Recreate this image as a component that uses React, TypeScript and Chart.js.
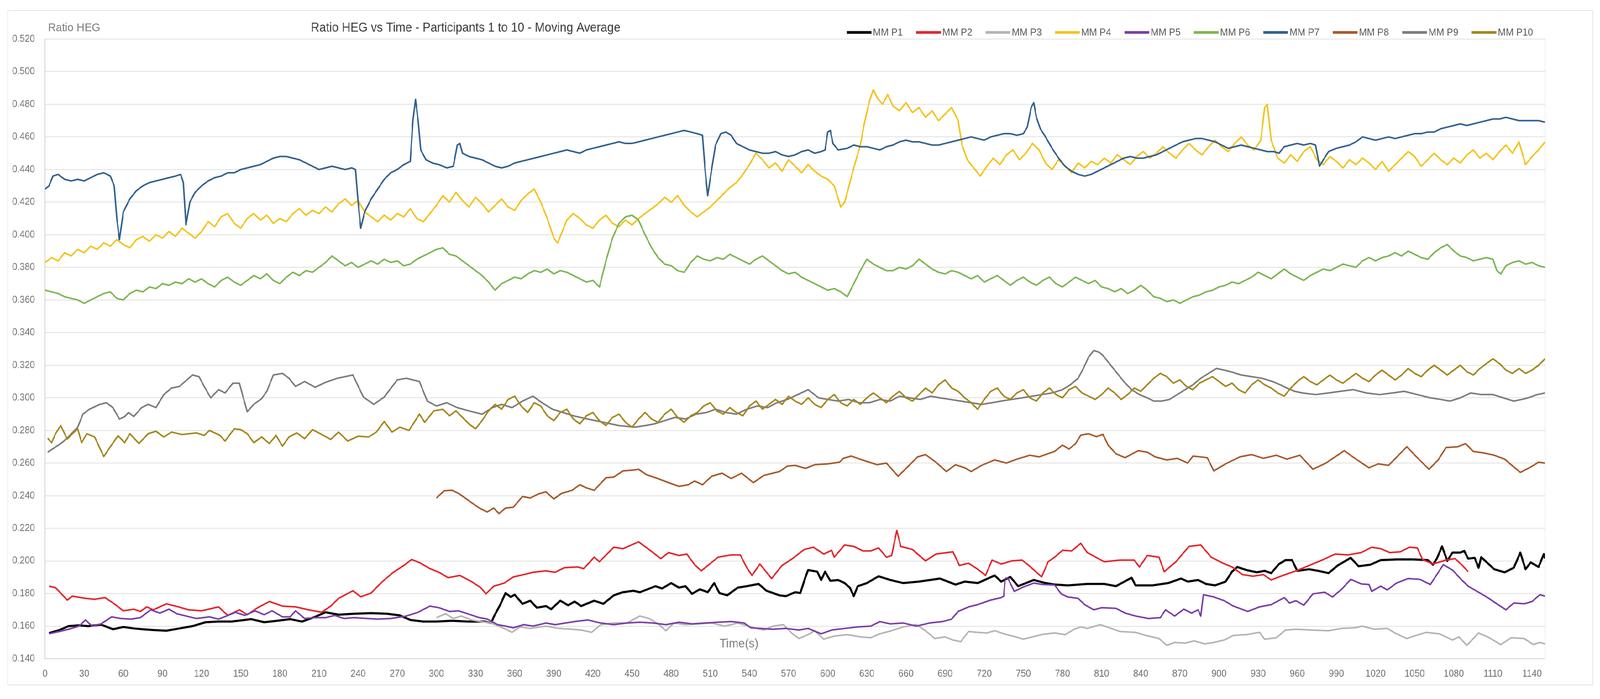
import React, { useEffect, useRef } from "react";
import { Chart, registerables } from "chart.js";

Chart.register(...registerables);

const SERIES_LABELS = ["MM P1", "MM P2", "MM P3", "MM P4", "MM P5", "MM P6", "MM P7", "MM P8", "MM P9", "MM P10"];
const SERIES_COLORS = ["#000000", "#e3262b", "#b4b4b4", "#f2c31c", "#7a3fa6", "#7cb653", "#32618e", "#a65a2b", "#7c7c7c", "#a3871c"];
const SERIES_WIDTHS = [5.5, 4, 4, 4, 4, 4, 4, 4, 4, 4];

const X_TICKS = [0, 30, 60, 90, 120, 150, 180, 210, 240, 270, 300, 330, 360, 390, 420, 450, 480, 510, 540, 570, 600, 630, 660, 690, 720, 750, 780, 810, 840, 870, 900, 930, 960, 990, 1020, 1050, 1080, 1110, 1140];
const Y_TICKS = [0.14, 0.16, 0.18, 0.2, 0.22, 0.24, 0.26, 0.28, 0.3, 0.32, 0.34, 0.36, 0.38, 0.4, 0.42, 0.44, 0.46, 0.48, 0.5, 0.52];

const P1: number[][] = [[3,0.1557],[11,0.1576],[18,0.160],[26,0.1605],[33,0.160],[43,0.1609],[52,0.1581],[60,0.1595],[68,0.1586],[75,0.1581],[83,0.1576],[93,0.1572],[103,0.1586],[113,0.160],[123,0.1624],[133,0.1628],[143,0.1628],[153,0.1638],[158,0.1643],[168,0.1624],[178,0.1633],[188,0.1643],[197,0.1628],[207,0.1657],[215,0.1685],[225,0.167],[237,0.1676],[250,0.168],[262,0.1676],[272,0.1666],[280,0.1638],[290,0.1628],[300,0.1628],[312,0.1633],[324,0.1628],[337,0.1628],[342,0.1619],[344,0.1657],[349,0.1732],[353,0.1803],[357,0.1779],[360,0.1793],[366,0.1737],[372,0.1756],[377,0.1713],[384,0.1723],[388,0.1704],[395,0.1756],[401,0.1728],[406,0.1751],[411,0.1723],[421,0.1756],[428,0.1737],[436,0.1789],[443,0.1808],[451,0.1817],[456,0.1808],[468,0.1845],[473,0.1831],[480,0.1864],[486,0.1836],[491,0.1845],[496,0.1798],[502,0.1826],[508,0.1808],[513,0.1864],[517,0.1803],[523,0.1789],[531,0.1836],[538,0.1845],[547,0.1859],[553,0.1817],[563,0.1789],[568,0.1784],[575,0.1808],[579,0.1803],[583,0.1902],[585,0.1944],[592,0.1934],[595,0.1883],[598,0.1934],[602,0.1878],[608,0.1883],[613,0.1864],[617,0.1836],[620,0.1784],[623,0.1845],[630,0.1864],[639,0.1906],[648,0.1883],[658,0.1864],[670,0.1873],[686,0.1892],[698,0.1855],[705,0.1873],[715,0.1864],[728,0.1911],[733,0.1873],[740,0.1902],[746,0.1845],[758,0.1883],[767,0.1864],[774,0.1855],[784,0.185],[799,0.1859],[812,0.1859],[821,0.1845],[833,0.1897],[836,0.185],[849,0.185],[861,0.1864],[871,0.1892],[876,0.1873],[884,0.1883],[890,0.1859],[897,0.185],[905,0.1873],[910,0.1934],[914,0.1963],[921,0.1944],[929,0.193],[935,0.1939],[940,0.1925],[946,0.1981],[951,0.2005],[956,0.2005],[960,0.1939],[969,0.1949],[976,0.1939],[984,0.1925],[991,0.1972],[1001,0.2019],[1007,0.1967],[1016,0.1977],[1024,0.2005],[1036,0.2009],[1049,0.2009],[1060,0.2005],[1064,0.1977],[1067,0.2014],[1071,0.2089],[1075,0.2],[1079,0.2051],[1085,0.2051],[1088,0.2061],[1091,0.2014],[1096,0.2019],[1099,0.1958],[1101,0.2023],[1111,0.1949],[1119,0.193],[1126,0.1958],[1131,0.2051],[1135,0.1949],[1139,0.1991],[1145,0.1963],[1149,0.2042],[1150,0.2014]];

const P2: number[][] = [[3,0.1845],[8,0.1836],[17,0.176],[21,0.1784],[31,0.177],[38,0.1765],[46,0.1775],[53,0.1737],[60,0.1694],[68,0.1704],[73,0.169],[78,0.1718],[83,0.170],[93,0.1737],[100,0.1723],[110,0.170],[120,0.1694],[133,0.1718],[140,0.1666],[149,0.170],[155,0.167],[163,0.1713],[172,0.1751],[182,0.1723],[192,0.1718],[202,0.170],[212,0.1685],[219,0.1723],[225,0.177],[236,0.1817],[242,0.178],[250,0.1803],[258,0.1869],[267,0.193],[275,0.1972],[281,0.2009],[287,0.199],[295,0.1953],[302,0.193],[309,0.1897],[318,0.1911],[327,0.1873],[334,0.1836],[338,0.1798],[344,0.1845],[352,0.1864],[359,0.1902],[367,0.1916],[374,0.193],[384,0.1939],[391,0.193],[398,0.1958],[408,0.1963],[413,0.1953],[421,0.2023],[425,0.1995],[436,0.2084],[443,0.2075],[455,0.2117],[463,0.207],[472,0.2014],[478,0.2051],[486,0.2033],[492,0.2042],[498,0.1977],[503,0.1939],[516,0.2023],[526,0.2037],[533,0.2037],[538,0.1958],[542,0.1911],[548,0.1981],[557,0.1892],[565,0.1972],[573,0.2014],[582,0.207],[589,0.2084],[597,0.2042],[603,0.2065],[605,0.2023],[613,0.2098],[620,0.2089],[627,0.2061],[633,0.2061],[639,0.208],[645,0.2023],[649,0.2033],[653,0.2187],[656,0.2089],[665,0.207],[675,0.200],[683,0.2042],[696,0.2056],[701,0.1972],[708,0.1986],[715,0.1949],[721,0.1911],[726,0.2005],[733,0.1981],[741,0.200],[749,0.2005],[755,0.1967],[764,0.1902],[769,0.1995],[774,0.2023],[780,0.2065],[787,0.2061],[794,0.2108],[799,0.2051],[812,0.1995],[824,0.2005],[835,0.2005],[839,0.1963],[845,0.2033],[854,0.2023],[858,0.1934],[867,0.1995],[877,0.2089],[886,0.2098],[894,0.2023],[903,0.1986],[910,0.1963],[918,0.1916],[926,0.1906],[934,0.1916],[940,0.1883],[949,0.1911],[959,0.1939],[969,0.1972],[979,0.2005],[989,0.2042],[999,0.2037],[1009,0.2051],[1017,0.2084],[1024,0.2075],[1031,0.2051],[1039,0.2056],[1046,0.2084],[1052,0.208],[1056,0.2009],[1064,0.1981],[1074,0.2005],[1081,0.2014],[1086,0.1977],[1091,0.1934]];

const P3: number[][] = [[300,0.1652],[307,0.1676],[313,0.1647],[319,0.1662],[327,0.1638],[334,0.1628],[342,0.1619],[352,0.1586],[358,0.1562],[364,0.1595],[372,0.1586],[384,0.160],[394,0.1586],[404,0.1581],[411,0.1576],[419,0.1562],[426,0.1609],[436,0.1619],[446,0.1619],[456,0.1662],[463,0.1647],[470,0.1614],[476,0.1572],[482,0.1619],[491,0.1609],[501,0.1614],[511,0.1619],[521,0.160],[531,0.1619],[541,0.1595],[551,0.1576],[558,0.160],[566,0.1609],[573,0.1553],[578,0.1524],[585,0.1548],[590,0.1572],[597,0.152],[605,0.1539],[615,0.1548],[625,0.1534],[633,0.1529],[640,0.1553],[648,0.157],[658,0.1595],[668,0.161],[675,0.1572],[682,0.1524],[690,0.1534],[696,0.1515],[702,0.1505],[708,0.1567],[715,0.1562],[722,0.1558],[728,0.1572],[735,0.1553],[742,0.1539],[750,0.152],[757,0.1534],[765,0.155],[774,0.1558],[782,0.1548],[789,0.1581],[794,0.1595],[799,0.1586],[809,0.1609],[816,0.159],[824,0.1567],[836,0.1562],[844,0.1543],[854,0.1524],[860,0.1482],[866,0.150],[874,0.1496],[881,0.151],[889,0.1491],[896,0.150],[904,0.1515],[911,0.1543],[921,0.1548],[931,0.1562],[935,0.152],[944,0.1529],[951,0.1576],[959,0.1581],[971,0.1576],[984,0.1572],[994,0.1586],[1004,0.159],[1010,0.160],[1019,0.1581],[1029,0.1586],[1036,0.1553],[1044,0.1524],[1051,0.1543],[1059,0.1562],[1069,0.1553],[1079,0.1515],[1084,0.1534],[1090,0.1482],[1099,0.1558],[1106,0.1534],[1116,0.1487],[1124,0.1529],[1134,0.1524],[1141,0.1487],[1146,0.150],[1150,0.1491]];

const P4: number[][] = [[0,0.383],[5,0.386],[10,0.384],[15,0.389],[20,0.387],[25,0.391],[30,0.389],[35,0.393],[40,0.391],[45,0.395],[50,0.393],[55,0.397],[60,0.394],[65,0.392],[70,0.397],[75,0.399],[80,0.396],[85,0.400],[90,0.398],[95,0.402],[100,0.399],[105,0.404],[110,0.401],[115,0.398],[120,0.402],[125,0.408],[130,0.405],[135,0.411],[140,0.413],[145,0.407],[150,0.404],[155,0.410],[160,0.413],[165,0.409],[170,0.412],[175,0.407],[180,0.410],[185,0.408],[190,0.413],[195,0.416],[200,0.412],[205,0.415],[210,0.413],[215,0.417],[220,0.414],[225,0.419],[230,0.422],[235,0.418],[240,0.421],[245,0.414],[250,0.411],[255,0.408],[260,0.412],[265,0.409],[270,0.413],[275,0.411],[280,0.416],[285,0.410],[290,0.408],[295,0.413],[300,0.418],[305,0.424],[310,0.420],[315,0.426],[320,0.421],[325,0.417],[330,0.423],[335,0.419],[340,0.414],[345,0.418],[350,0.422],[355,0.417],[360,0.415],[365,0.421],[370,0.425],[375,0.428],[380,0.420],[385,0.410],[390,0.398],[393,0.395],[397,0.403],[400,0.409],[405,0.413],[410,0.410],[415,0.406],[420,0.404],[425,0.409],[430,0.412],[435,0.407],[440,0.405],[445,0.409],[450,0.406],[455,0.410],[460,0.413],[465,0.416],[470,0.419],[475,0.423],[480,0.420],[485,0.424],[490,0.418],[495,0.414],[500,0.411],[505,0.414],[510,0.417],[515,0.421],[520,0.425],[525,0.429],[530,0.432],[535,0.437],[540,0.443],[545,0.450],[550,0.446],[555,0.441],[560,0.444],[565,0.439],[570,0.446],[575,0.442],[580,0.438],[585,0.443],[590,0.439],[595,0.436],[600,0.434],[605,0.430],[610,0.417],[613,0.420],[617,0.432],[620,0.441],[625,0.455],[628,0.468],[632,0.482],[635,0.489],[638,0.484],[642,0.480],[646,0.486],[650,0.479],[655,0.476],[660,0.481],[665,0.475],[670,0.478],[675,0.472],[680,0.476],[685,0.470],[690,0.474],[695,0.478],[700,0.470],[703,0.455],[707,0.446],[712,0.441],[717,0.436],[722,0.442],[727,0.447],[732,0.443],[737,0.449],[742,0.452],[747,0.446],[752,0.450],[757,0.456],[762,0.452],[767,0.444],[772,0.440],[777,0.446],[782,0.442],[787,0.438],[792,0.444],[797,0.441],[802,0.445],[807,0.443],[812,0.447],[817,0.444],[822,0.449],[827,0.446],[832,0.443],[837,0.448],[842,0.451],[847,0.447],[852,0.450],[857,0.454],[862,0.450],[867,0.447],[872,0.452],[877,0.456],[882,0.452],[887,0.449],[892,0.454],[897,0.458],[902,0.454],[907,0.451],[912,0.456],[917,0.460],[922,0.455],[927,0.452],[932,0.458],[935,0.478],[937,0.480],[940,0.458],[945,0.447],[950,0.444],[955,0.449],[960,0.445],[965,0.451],[970,0.454],[975,0.446],[980,0.443],[985,0.448],[990,0.445],[995,0.441],[1000,0.446],[1005,0.443],[1010,0.447],[1015,0.444],[1020,0.440],[1025,0.445],[1030,0.439],[1035,0.443],[1040,0.447],[1045,0.451],[1050,0.448],[1055,0.442],[1060,0.446],[1065,0.450],[1070,0.446],[1075,0.443],[1080,0.447],[1085,0.444],[1090,0.449],[1095,0.452],[1100,0.447],[1105,0.450],[1110,0.446],[1115,0.451],[1120,0.455],[1125,0.450],[1130,0.457],[1135,0.443],[1140,0.448],[1145,0.452],[1150,0.457]];

const P5: number[][] = [[3,0.1553],[11,0.1567],[18,0.1581],[26,0.160],[31,0.1638],[36,0.160],[43,0.1614],[51,0.1657],[58,0.1647],[66,0.1643],[73,0.1652],[81,0.170],[88,0.168],[95,0.1704],[101,0.1676],[108,0.1662],[116,0.1647],[126,0.1657],[133,0.1643],[139,0.1662],[146,0.1685],[153,0.1666],[161,0.1694],[168,0.167],[174,0.1694],[182,0.1657],[188,0.1657],[192,0.1694],[199,0.1647],[207,0.1652],[215,0.1652],[222,0.1666],[229,0.1647],[237,0.1652],[247,0.1647],[255,0.1643],[265,0.1647],[277,0.1662],[286,0.1685],[295,0.1723],[302,0.1713],[310,0.169],[317,0.1694],[324,0.1676],[333,0.1652],[339,0.1643],[347,0.1609],[353,0.160],[359,0.159],[367,0.1609],[374,0.160],[384,0.1619],[391,0.1609],[399,0.1619],[406,0.1628],[416,0.1638],[426,0.1619],[436,0.1609],[446,0.1619],[456,0.1624],[466,0.1619],[476,0.1609],[486,0.1624],[496,0.1614],[506,0.1619],[516,0.1624],[526,0.1628],[536,0.1619],[541,0.159],[548,0.1586],[558,0.1581],[568,0.1586],[578,0.1576],[585,0.1586],[595,0.1553],[603,0.1576],[613,0.1586],[623,0.1595],[633,0.160],[640,0.1628],[648,0.1614],[658,0.1619],[668,0.160],[678,0.1619],[688,0.1628],[695,0.1643],[700,0.169],[708,0.1718],[715,0.1732],[725,0.176],[733,0.1775],[735,0.1784],[736,0.1892],[738,0.1897],[743,0.1813],[750,0.184],[758,0.1864],[765,0.1855],[774,0.1852],[779,0.1798],[784,0.1779],[792,0.177],[797,0.1732],[804,0.170],[810,0.1713],[821,0.1709],[828,0.168],[836,0.1662],[846,0.1647],[855,0.1652],[859,0.170],[866,0.1662],[873,0.1704],[879,0.168],[884,0.170],[886,0.1662],[888,0.1793],[896,0.1779],[904,0.1756],[911,0.1723],[922,0.169],[931,0.1718],[940,0.1732],[950,0.1775],[954,0.1742],[959,0.1756],[965,0.1728],[972,0.1798],[981,0.1808],[987,0.1779],[994,0.1826],[1001,0.1887],[1009,0.1859],[1015,0.1855],[1017,0.1813],[1024,0.1845],[1029,0.1822],[1036,0.1864],[1045,0.1892],[1054,0.1887],[1062,0.1855],[1067,0.1916],[1072,0.1977],[1079,0.1944],[1085,0.1892],[1091,0.1845],[1099,0.1808],[1106,0.1775],[1112,0.1742],[1120,0.170],[1126,0.1742],[1134,0.1737],[1140,0.1751],[1146,0.1793],[1150,0.1784]];

const P6: number[][] = [[0,0.366],[5,0.365],[10,0.364],[15,0.362],[20,0.361],[25,0.360],[30,0.358],[35,0.360],[40,0.362],[45,0.364],[50,0.365],[55,0.361],[60,0.360],[65,0.364],[70,0.366],[75,0.365],[80,0.368],[85,0.367],[90,0.370],[95,0.369],[100,0.371],[105,0.370],[110,0.373],[115,0.371],[120,0.373],[125,0.370],[130,0.368],[135,0.372],[140,0.374],[145,0.371],[150,0.369],[155,0.372],[160,0.375],[165,0.373],[170,0.376],[175,0.372],[180,0.370],[185,0.374],[190,0.377],[195,0.375],[200,0.378],[205,0.377],[210,0.380],[215,0.383],[220,0.387],[225,0.384],[230,0.381],[235,0.383],[240,0.380],[245,0.382],[250,0.384],[255,0.382],[260,0.385],[265,0.383],[270,0.384],[275,0.381],[280,0.382],[285,0.385],[290,0.387],[295,0.389],[300,0.391],[305,0.392],[310,0.388],[315,0.387],[320,0.384],[325,0.381],[330,0.378],[335,0.375],[340,0.371],[345,0.366],[350,0.370],[355,0.372],[360,0.374],[365,0.373],[370,0.376],[375,0.378],[380,0.377],[385,0.379],[390,0.376],[395,0.378],[400,0.377],[405,0.375],[410,0.373],[415,0.371],[420,0.372],[425,0.368],[430,0.384],[435,0.398],[440,0.407],[445,0.411],[450,0.412],[455,0.409],[460,0.400],[465,0.392],[470,0.386],[475,0.382],[480,0.381],[485,0.378],[490,0.377],[495,0.383],[500,0.387],[505,0.385],[510,0.384],[515,0.386],[520,0.385],[525,0.388],[530,0.386],[535,0.384],[540,0.382],[545,0.385],[550,0.387],[555,0.384],[560,0.381],[565,0.378],[570,0.376],[575,0.377],[580,0.374],[585,0.372],[590,0.370],[595,0.368],[600,0.366],[605,0.367],[610,0.365],[615,0.362],[620,0.370],[625,0.378],[630,0.385],[635,0.382],[640,0.380],[645,0.378],[650,0.378],[655,0.380],[660,0.379],[665,0.381],[670,0.385],[675,0.382],[680,0.379],[685,0.377],[690,0.376],[695,0.378],[700,0.377],[705,0.375],[710,0.373],[715,0.375],[720,0.371],[725,0.373],[730,0.375],[735,0.372],[740,0.369],[745,0.372],[750,0.374],[755,0.371],[760,0.369],[765,0.372],[770,0.374],[775,0.370],[780,0.368],[785,0.371],[790,0.374],[795,0.372],[800,0.370],[805,0.372],[810,0.368],[815,0.367],[820,0.365],[825,0.367],[830,0.364],[835,0.366],[840,0.369],[845,0.366],[850,0.362],[855,0.361],[860,0.359],[865,0.360],[870,0.358],[875,0.360],[880,0.362],[885,0.363],[890,0.365],[895,0.366],[900,0.368],[905,0.369],[910,0.371],[915,0.370],[920,0.372],[925,0.374],[930,0.377],[935,0.375],[940,0.373],[945,0.376],[950,0.379],[955,0.376],[960,0.374],[965,0.372],[970,0.375],[975,0.377],[980,0.379],[985,0.378],[990,0.380],[995,0.382],[1000,0.381],[1005,0.380],[1010,0.384],[1015,0.386],[1020,0.384],[1025,0.386],[1030,0.387],[1035,0.389],[1040,0.387],[1045,0.390],[1050,0.388],[1055,0.386],[1060,0.385],[1065,0.389],[1070,0.392],[1075,0.394],[1080,0.390],[1085,0.387],[1090,0.386],[1095,0.384],[1100,0.385],[1105,0.386],[1110,0.385],[1113,0.378],[1116,0.376],[1120,0.381],[1125,0.383],[1130,0.384],[1135,0.382],[1140,0.383],[1145,0.381],[1150,0.380]];

const P7: number[][] = [[0,0.428],[3,0.430],[6,0.436],[10,0.437],[15,0.434],[20,0.433],[25,0.434],[30,0.433],[35,0.435],[40,0.437],[45,0.438],[50,0.436],[53,0.430],[55,0.410],[57,0.397],[60,0.414],[65,0.422],[70,0.427],[75,0.430],[80,0.432],[85,0.433],[90,0.434],[95,0.435],[100,0.436],[104,0.437],[106,0.432],[108,0.406],[111,0.420],[115,0.426],[120,0.430],[125,0.433],[130,0.435],[135,0.436],[140,0.438],[145,0.438],[150,0.440],[155,0.441],[160,0.442],[165,0.443],[170,0.445],[175,0.447],[180,0.448],[185,0.448],[190,0.447],[195,0.446],[200,0.444],[205,0.442],[210,0.440],[215,0.441],[220,0.442],[225,0.441],[230,0.440],[235,0.441],[238,0.440],[240,0.420],[242,0.404],[245,0.414],[250,0.422],[255,0.428],[260,0.434],[265,0.438],[270,0.440],[275,0.443],[280,0.445],[282,0.470],[284,0.483],[286,0.470],[288,0.452],[292,0.446],[297,0.444],[302,0.443],[308,0.441],[313,0.442],[316,0.455],[318,0.456],[320,0.450],[325,0.448],[330,0.447],[335,0.446],[340,0.444],[345,0.442],[350,0.441],[355,0.442],[360,0.444],[365,0.445],[370,0.446],[375,0.447],[380,0.448],[385,0.449],[390,0.450],[395,0.451],[400,0.452],[405,0.451],[410,0.450],[415,0.452],[420,0.453],[425,0.454],[430,0.455],[435,0.456],[440,0.457],[445,0.456],[450,0.456],[455,0.457],[460,0.458],[465,0.459],[470,0.460],[475,0.461],[480,0.462],[485,0.463],[490,0.464],[495,0.463],[500,0.462],[504,0.461],[506,0.440],[508,0.424],[511,0.440],[514,0.455],[518,0.462],[522,0.463],[526,0.461],[530,0.456],[535,0.454],[540,0.452],[545,0.451],[550,0.450],[555,0.450],[560,0.451],[565,0.449],[570,0.448],[575,0.449],[580,0.451],[585,0.452],[590,0.450],[595,0.451],[598,0.452],[600,0.463],[602,0.464],[604,0.456],[608,0.452],[615,0.453],[620,0.455],[625,0.454],[630,0.454],[635,0.453],[640,0.452],[645,0.454],[650,0.455],[655,0.457],[660,0.458],[665,0.457],[670,0.457],[675,0.456],[680,0.455],[685,0.455],[690,0.456],[695,0.457],[700,0.458],[705,0.459],[710,0.460],[715,0.459],[720,0.458],[725,0.460],[730,0.461],[735,0.462],[740,0.462],[745,0.461],[750,0.462],[753,0.466],[756,0.478],[758,0.481],[760,0.472],[763,0.465],[767,0.460],[772,0.453],[777,0.447],[782,0.442],[787,0.439],[792,0.437],[797,0.436],[802,0.437],[807,0.439],[812,0.441],[817,0.443],[822,0.445],[827,0.447],[832,0.448],[837,0.447],[842,0.447],[847,0.448],[852,0.449],[857,0.451],[862,0.453],[867,0.455],[872,0.457],[877,0.458],[882,0.459],[887,0.459],[892,0.458],[897,0.457],[902,0.455],[907,0.453],[912,0.454],[917,0.455],[922,0.454],[927,0.453],[932,0.452],[937,0.451],[942,0.451],[946,0.450],[950,0.454],[955,0.455],[960,0.456],[965,0.455],[970,0.456],[974,0.455],[977,0.442],[980,0.446],[984,0.451],[990,0.453],[995,0.454],[1000,0.455],[1005,0.457],[1010,0.460],[1015,0.459],[1020,0.458],[1025,0.459],[1030,0.460],[1035,0.459],[1040,0.460],[1045,0.461],[1050,0.462],[1055,0.462],[1060,0.463],[1065,0.463],[1070,0.465],[1075,0.466],[1080,0.467],[1085,0.468],[1090,0.467],[1095,0.468],[1100,0.469],[1105,0.470],[1110,0.471],[1115,0.471],[1120,0.472],[1125,0.471],[1130,0.470],[1135,0.470],[1140,0.470],[1145,0.470],[1150,0.469]];

const P8: number[][] = [[300,0.2386],[306,0.243],[312,0.2433],[317,0.2414],[322,0.2386],[327,0.2357],[333,0.2324],[339,0.230],[344,0.2324],[348,0.229],[353,0.2324],[359,0.2329],[366,0.2395],[372,0.2386],[378,0.241],[384,0.2424],[390,0.238],[396,0.2414],[404,0.2433],[410,0.2467],[415,0.2448],[421,0.2433],[430,0.251],[436,0.2514],[443,0.2552],[451,0.2557],[455,0.2562],[461,0.2529],[468,0.251],[476,0.2486],[486,0.2457],[493,0.2467],[498,0.249],[504,0.2467],[511,0.2519],[519,0.2538],[526,0.2505],[534,0.2538],[543,0.248],[551,0.2524],[558,0.2538],[563,0.2548],[569,0.2581],[575,0.2586],[583,0.2567],[590,0.259],[600,0.2595],[609,0.2605],[612,0.2629],[618,0.2643],[623,0.2629],[630,0.261],[638,0.259],[645,0.260],[654,0.2519],[660,0.2567],[669,0.2638],[675,0.2652],[683,0.2605],[691,0.2548],[698,0.259],[705,0.2571],[710,0.2548],[718,0.2586],[728,0.2619],[737,0.260],[745,0.2624],[755,0.2648],[762,0.2638],[774,0.2672],[780,0.271],[785,0.2686],[790,0.2719],[794,0.2771],[800,0.278],[806,0.2762],[811,0.2776],[815,0.271],[821,0.2657],[828,0.2633],[838,0.2676],[845,0.2667],[851,0.2638],[860,0.2619],[868,0.2629],[876,0.260],[880,0.2643],[891,0.2633],[896,0.2552],[905,0.2595],[916,0.2638],[925,0.2652],[934,0.2629],[944,0.2648],[952,0.2624],[962,0.2648],[972,0.2562],[982,0.260],[996,0.2676],[1005,0.2624],[1015,0.2571],[1022,0.2595],[1030,0.2586],[1044,0.270],[1052,0.2633],[1061,0.2562],[1068,0.2619],[1074,0.2695],[1083,0.270],[1089,0.2719],[1095,0.2671],[1103,0.2662],[1111,0.2648],[1119,0.2624],[1126,0.2576],[1131,0.2543],[1138,0.2571],[1145,0.2605],[1150,0.260]];

const P9: number[][] = [[2,0.2667],[13,0.2725],[19,0.277],[25,0.282],[29,0.290],[34,0.293],[42,0.296],[47,0.297],[52,0.294],[57,0.287],[61,0.2885],[64,0.291],[68,0.2885],[74,0.294],[79,0.296],[85,0.294],[91,0.302],[97,0.306],[103,0.307],[113,0.314],[118,0.313],[122,0.307],[127,0.300],[133,0.305],[138,0.303],[144,0.309],[149,0.309],[152,0.300],[155,0.2915],[160,0.296],[166,0.2995],[170,0.304],[175,0.314],[182,0.315],[187,0.312],[192,0.307],[199,0.310],[207,0.3065],[215,0.3095],[224,0.312],[236,0.314],[244,0.3005],[252,0.296],[260,0.3005],[270,0.311],[277,0.312],[287,0.310],[293,0.298],[300,0.295],[308,0.297],[316,0.294],[325,0.292],[335,0.290],[343,0.294],[350,0.296],[358,0.294],[366,0.298],[374,0.301],[381,0.297],[389,0.293],[397,0.291],[405,0.289],[416,0.287],[428,0.285],[440,0.283],[452,0.282],[460,0.283],[467,0.284],[475,0.286],[483,0.288],[491,0.287],[499,0.290],[507,0.291],[514,0.293],[522,0.291],[530,0.290],[538,0.293],[546,0.295],[554,0.294],[561,0.297],[569,0.299],[577,0.302],[585,0.305],[593,0.300],[600,0.299],[608,0.298],[616,0.299],[624,0.297],[632,0.297],[640,0.299],[648,0.298],[655,0.301],[663,0.300],[671,0.299],[679,0.301],[686,0.300],[694,0.299],[702,0.298],[710,0.297],[718,0.296],[726,0.297],[733,0.298],[741,0.299],[749,0.300],[757,0.301],[764,0.302],[772,0.303],[780,0.305],[786,0.308],[792,0.312],[796,0.318],[800,0.325],[804,0.329],[808,0.328],[811,0.326],[815,0.322],[819,0.318],[823,0.314],[827,0.310],[833,0.305],[839,0.302],[845,0.300],[850,0.298],[856,0.298],[862,0.299],[868,0.302],[874,0.305],[880,0.308],[886,0.312],[892,0.315],[898,0.318],[904,0.317],[909,0.316],[917,0.314],[925,0.313],[933,0.312],[941,0.310],[947,0.308],[952,0.306],[958,0.304],[964,0.303],[974,0.302],[984,0.303],[993,0.304],[1003,0.305],[1013,0.303],[1023,0.302],[1033,0.303],[1042,0.304],[1052,0.302],[1062,0.300],[1070,0.299],[1077,0.298],[1085,0.300],[1093,0.303],[1101,0.302],[1110,0.302],[1118,0.300],[1126,0.298],[1132,0.299],[1137,0.300],[1144,0.302],[1150,0.303]];

const P10: number[][] = [[2,0.2752],[5,0.2725],[8,0.278],[12,0.283],[17,0.2747],[21,0.278],[25,0.281],[28,0.2725],[32,0.278],[38,0.276],[45,0.264],[50,0.270],[56,0.2768],[61,0.2725],[65,0.278],[72,0.272],[79,0.278],[85,0.2795],[91,0.276],[97,0.279],[105,0.2775],[116,0.2785],[122,0.277],[126,0.280],[134,0.277],[138,0.2735],[145,0.281],[150,0.2805],[155,0.278],[160,0.2725],[166,0.276],[172,0.272],[177,0.277],[182,0.2704],[187,0.276],[193,0.2785],[199,0.275],[205,0.2805],[211,0.278],[219,0.2745],[225,0.279],[232,0.2735],[240,0.2765],[248,0.276],[254,0.279],[260,0.2855],[266,0.279],[272,0.282],[279,0.280],[287,0.290],[291,0.285],[298,0.292],[305,0.293],[310,0.289],[315,0.292],[320,0.288],[325,0.284],[330,0.281],[335,0.286],[340,0.292],[345,0.296],[350,0.293],[355,0.299],[360,0.301],[365,0.295],[370,0.291],[375,0.297],[380,0.295],[385,0.289],[390,0.286],[395,0.291],[400,0.293],[405,0.287],[410,0.284],[415,0.289],[420,0.291],[425,0.286],[430,0.283],[435,0.288],[440,0.290],[445,0.285],[450,0.282],[455,0.287],[460,0.291],[465,0.287],[470,0.285],[475,0.290],[480,0.293],[485,0.288],[490,0.285],[495,0.289],[500,0.291],[505,0.295],[510,0.297],[515,0.292],[520,0.290],[525,0.294],[530,0.291],[535,0.289],[540,0.295],[545,0.298],[550,0.293],[555,0.296],[560,0.299],[565,0.296],[570,0.301],[575,0.298],[580,0.296],[585,0.300],[590,0.296],[595,0.294],[600,0.299],[605,0.302],[610,0.297],[615,0.295],[620,0.299],[625,0.296],[630,0.300],[635,0.303],[640,0.300],[645,0.297],[650,0.301],[655,0.304],[660,0.300],[665,0.298],[670,0.302],[675,0.306],[680,0.303],[685,0.308],[690,0.311],[695,0.306],[700,0.304],[705,0.300],[710,0.297],[715,0.293],[720,0.299],[725,0.304],[730,0.306],[735,0.301],[740,0.299],[745,0.303],[750,0.305],[755,0.300],[760,0.298],[765,0.303],[770,0.306],[775,0.302],[780,0.300],[785,0.305],[790,0.307],[795,0.303],[800,0.301],[805,0.299],[810,0.302],[815,0.306],[820,0.303],[825,0.299],[830,0.302],[835,0.306],[840,0.304],[845,0.308],[850,0.312],[855,0.315],[860,0.313],[865,0.309],[870,0.311],[875,0.307],[880,0.305],[885,0.309],[890,0.311],[895,0.313],[900,0.310],[905,0.307],[910,0.309],[915,0.305],[920,0.303],[925,0.308],[930,0.311],[935,0.308],[940,0.306],[945,0.303],[950,0.301],[955,0.306],[960,0.310],[965,0.313],[970,0.310],[975,0.308],[980,0.311],[985,0.314],[990,0.311],[995,0.309],[1000,0.312],[1005,0.315],[1010,0.312],[1015,0.310],[1020,0.314],[1025,0.317],[1030,0.314],[1035,0.311],[1040,0.314],[1045,0.318],[1050,0.315],[1055,0.313],[1060,0.317],[1065,0.320],[1070,0.317],[1075,0.314],[1080,0.317],[1085,0.320],[1090,0.316],[1095,0.314],[1100,0.318],[1105,0.321],[1110,0.324],[1115,0.321],[1120,0.317],[1125,0.315],[1130,0.318],[1135,0.315],[1140,0.317],[1145,0.320],[1150,0.324]];

const SERIES_DATA = [P1, P2, P3, P4, P5, P6, P7, P8, P9, P10];

const CHART_TITLE = "Ratio HEG vs Time - Participants 1 to 10 - Moving Average";
const Y_TITLE = "Ratio HEG";
const X_TITLE = "Time(s)";

const FONT = '"Liberation Sans", Arial, sans-serif';
const DESIGN_W = 4401;
const DESIGN_H = 1789;

function fitFont(ctx: CanvasRenderingContext2D, text: string, width: number): number {
  ctx.font = `40px ${FONT}`;
  const w = ctx.measureText(text).width;
  return (40 * width) / w;
}

const textPlugin = {
  id: "excelTexts",
  afterDraw(chart: any) {
    const ctx = chart.ctx as CanvasRenderingContext2D;
    const area = chart.chartArea;
    ctx.save();
    ctx.textBaseline = "middle";
    ctx.fillStyle = "#7f7f7f";
    ctx.textAlign = "left";
    ctx.font = `${fitFont(ctx, Y_TITLE, 144)}px ${FONT}`;
    ctx.fillText(Y_TITLE, 110, 44);
    ctx.fillStyle = "#3a3a3a";
    ctx.textAlign = "left";
    ctx.font = `${fitFont(ctx, CHART_TITLE, 852)}px ${FONT}`;
    ctx.fillText(CHART_TITLE, 833, 44);
    ctx.fillStyle = "#7f7f7f";
    ctx.textAlign = "center";
    ctx.font = `${fitFont(ctx, X_TITLE, 107)}px ${FONT}`;
    ctx.fillText(X_TITLE, chart.scales.x.getPixelForValue(532), area.bottom - 38);
    ctx.font = `26px ${FONT}`;
    ctx.textAlign = "left";
    const datasets = chart.data.datasets;
    let x = 2307;
    const y = 55;
    for (let i = 0; i < datasets.length; i++) {
      const ds = datasets[i];
      ctx.strokeStyle = ds.borderColor;
      ctx.lineWidth = 7;
      ctx.lineCap = "butt";
      ctx.beginPath();
      ctx.moveTo(x, y);
      ctx.lineTo(x + 68, y);
      ctx.stroke();
      ctx.fillStyle = "#595959";
      ctx.fillText(ds.label, x + 72, y + 1);
      x += 191;
    }
    ctx.restore();
  },
};

export default function App() {
  const ref = useRef<HTMLCanvasElement | null>(null);
  const sx = typeof window !== "undefined" && window.innerWidth ? window.innerWidth / DESIGN_W : 1;
  const sy = typeof window !== "undefined" && window.innerHeight ? window.innerHeight / DESIGN_H : 1;

  useEffect(() => {
    const canvas = ref.current;
    if (!canvas) return;
    const dpr = (window.devicePixelRatio || 1) * Math.max(sx, sy);
    const datasets = SERIES_DATA.map((series, i) => ({
      label: SERIES_LABELS[i],
      data: series.map((p) => ({ x: p[0], y: p[1] })),
      borderColor: SERIES_COLORS[i],
      backgroundColor: SERIES_COLORS[i],
      borderWidth: SERIES_WIDTHS[i],
      pointRadius: 0,
      tension: 0,
      fill: false,
      order: 10 - i,
      borderJoinStyle: "round" as const,
    }));
    const chart = new Chart(canvas, {
      type: "line",
      data: { datasets },
      options: {
        animation: false,
        responsive: false,
        devicePixelRatio: dpr,
        layout: { padding: { left: 0, right: 130, top: 72, bottom: 0 } },
        plugins: {
          legend: { display: false },
          title: { display: false },
          tooltip: { enabled: false },
        },
        scales: {
          x: {
            type: "linear",
            min: 0,
            max: 1150,
            afterBuildTicks: (scale: any) => {
              scale.ticks = X_TICKS.map((v) => ({ value: v }));
            },
            afterFit: (scale: any) => {
              scale.height = 66;
            },
            ticks: {
              autoSkip: false,
              maxRotation: 0,
              minRotation: 0,
              padding: 24,
              color: "#6e6e6e",
              font: { family: FONT, size: 25 },
              callback: (v: any) => String(v),
            },
            grid: { display: false, drawTicks: false },
            border: { display: true, color: "#d0d0d0", width: 2 },
          },
          y: {
            type: "linear",
            position: "left",
            min: 0.14,
            max: 0.52,
            afterBuildTicks: (scale: any) => {
              scale.ticks = Y_TICKS.map((v) => ({ value: v }));
            },
            afterFit: (scale: any) => {
              scale.width = 102;
            },
            ticks: {
              padding: 28,
              color: "#6e6e6e",
              font: { family: FONT, size: 25 },
              callback: (v: any) => Number(v).toFixed(3),
            },
            grid: { color: "#e0e0e0", lineWidth: 2, drawTicks: false },
            border: { display: true, color: "#d0d0d0", width: 2 },
          },
          y2: {
            type: "linear",
            position: "right",
            min: 0.14,
            max: 0.52,
            afterFit: (scale: any) => {
              scale.width = 0;
            },
            ticks: { display: false },
            grid: { display: false, drawTicks: false },
            border: { display: true, color: "#e0e0e0", width: 2 },
          },
        },
      },
      plugins: [textPlugin],
    });
    return () => chart.destroy();
  }, []);

  return (
    <div style={{ position: "fixed", left: 0, top: 0, width: "100vw", height: "100vh", background: "#ffffff", overflow: "hidden" }}>
      <div
        style={{
          position: "absolute",
          left: 0,
          top: 0,
          width: DESIGN_W,
          height: DESIGN_H,
          transform: `scale(${sx}, ${sy})`,
          transformOrigin: "0 0",
        }}
      >
        <div
          style={{
            position: "absolute",
            left: 20,
            top: 26,
            width: 4362,
            height: 1728,
            border: "2px solid #e2e2e2",
            boxSizing: "border-box",
          }}
        >
          <canvas ref={ref} width={4358} height={1724} style={{ display: "block", width: 4358, height: 1724 }} />
        </div>
      </div>
    </div>
  );
}
